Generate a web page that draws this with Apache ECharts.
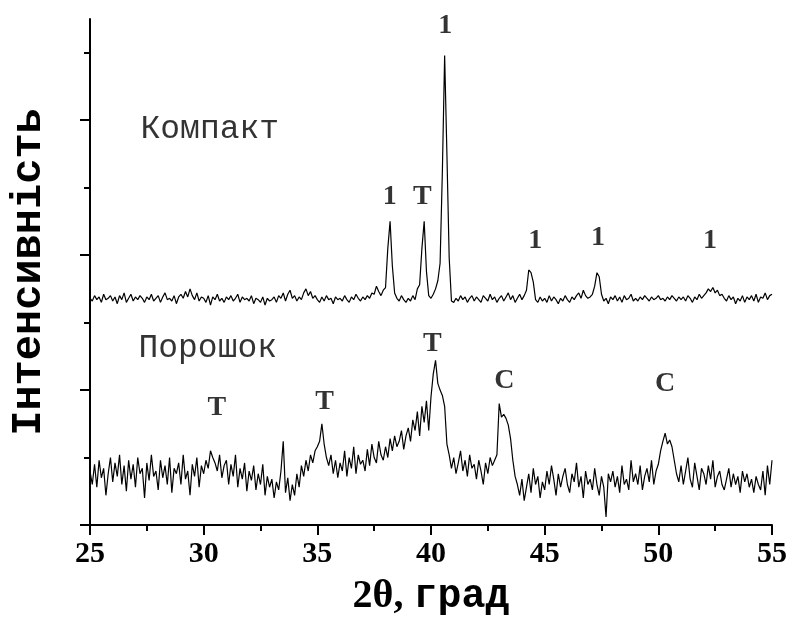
<!DOCTYPE html>
<html>
<head>
<meta charset="utf-8">
<script src="https://cdn.jsdelivr.net/npm/echarts@6/dist/echarts.min.js"></script>
<style>
  html, body { margin: 0; padding: 0; background: #fff; }
  #area { width: 790px; height: 623px; }
</style>
</head>
<body>
<div id="area"></div>
<script>
// 2θ grid: 25.0 ... 55.0, step 0.1
const thetaStart = 25
const thetaStep = 0.1

// Компакт (one row per degree, 10 points each)
const compactValues = [
  168,166,170,167,169,165,171,167,168,170,
  166,169,164,170,167,172,165,168,171,166,
  169,167,170,168,165,169,167,171,166,168,
  170,165,169,172,167,168,166,170,164,169,
  171,168,173,169,175,170,167,172,166,169,
  168,165,170,163,169,167,171,166,168,165,
  169,167,170,166,168,171,165,169,167,168,
  166,170,164,168,167,165,169,163,168,166,
  167,169,165,170,168,172,166,171,174,168,
  170,166,169,167,172,175,170,173,168,170,
  167,165,169,166,170,167,168,164,169,167,
  168,166,170,167,165,169,167,171,168,166,
  169,167,170,168,172,171,177,173,170,174,
  176,205,225,192,172,168,166,170,167,165,
  168,166,170,167,175,178,205,225,188,170,
  168,171,175,181,194,262,348,275,198,166,
  165,168,166,170,167,169,165,168,170,166,
  169,167,165,170,168,166,171,167,169,165,
  168,170,166,169,172,167,170,165,168,171,
  167,170,174,189,187,180,167,165,169,166,
  168,165,170,166,169,167,164,168,166,170,
  167,165,169,167,170,172,168,174,170,168,
  169,171,177,187,184,171,166,168,164,169,
  167,170,166,169,165,170,167,168,171,166,
  168,166,169,167,170,168,166,169,167,168,
  170,167,168,166,169,167,170,168,166,169,
  167,169,166,170,168,165,169,167,171,168,
  170,172,175,173,176,172,174,170,171,168,
  166,170,167,169,164,168,166,170,165,169,
  167,170,166,171,165,169,168,172,167,170,
  171
]

// Порошок
const powderValues = [
  40,30,45,28,48,35,42,22,38,50,
  32,46,36,52,30,44,25,48,34,45,
  28,50,38,42,20,46,33,52,36,40,
  26,48,35,44,30,50,24,42,38,46,
  30,52,34,40,22,45,36,50,28,44,
  38,48,42,55,50,46,40,52,35,44,
  48,30,45,36,52,28,42,34,46,25,
  40,33,44,26,38,30,45,22,36,28,
  34,20,32,26,40,62,24,35,18,30,
  22,38,28,44,36,48,40,52,46,55,
  58,62,75,60,50,44,52,38,48,35,
  46,40,55,36,50,42,58,38,52,45,
  48,40,56,44,60,50,46,62,52,48,
  58,50,64,55,66,58,62,70,56,66,
  72,62,78,70,84,66,88,76,92,70,
  95,112,122,105,100,96,88,60,52,42,
  50,38,46,55,40,48,36,52,42,45,
  34,48,40,30,46,38,50,44,48,52,
  90,80,82,79,74,64,48,36,30,22,
  34,18,28,38,24,42,30,36,20,32,
  26,40,30,44,34,22,38,28,36,42,
  30,24,38,32,46,28,36,20,40,30,
  34,26,42,30,22,36,28,6,38,32,
  40,28,36,24,44,30,34,26,48,32,
  38,30,44,26,36,42,32,48,30,40,
  45,55,62,68,60,63,58,48,38,32,
  44,30,40,50,34,28,46,36,26,42,
  38,30,44,34,48,28,36,40,30,26,
  34,42,28,38,30,36,24,40,32,38,
  28,34,24,36,30,26,40,22,44,30,
  48
]

// peak marks
const peakX = [38.18, 39.62, 40.63, 44.59, 47.35, 52.27, 30.58, 35.32, 40.06, 43.23, 50.30]
const peakY = [243, 243, 370, 211, 213, 211, 87, 91, 134, 107, 105]
const peakText = ['1', 'T', '1', '1', '1', '1', 'T', 'T', 'T', 'C', 'C']

// sample names
const sampleX = [30.27, 30.18]
const sampleY = [293, 131]
const sampleText = ['Компакт', 'Порошок']

const xTicks = [25, 30, 35, 40, 45, 50, 55]
const yMajorTicks = [0, 100, 200, 300]
const yMinorTicks = [50, 150, 250, 350]

function pairs(values) {
  return values.map(function (v, i) {
    return [+(thetaStart + i * thetaStep).toFixed(1), v]
  })
}

const axisColor = '#000'
const yCommon = {
  type: 'value',
  position: 'left',
  min: 0,
  max: 375,
  splitLine: { show: false },
  axisLabel: { show: false }
}

let option = {
  animation: false,
  backgroundColor: '#fff',
  grid: { left: 90, right: 17, top: 19, bottom: 98 },
  xAxis: {
    type: 'value',
    min: xTicks[0],
    max: xTicks[xTicks.length - 1],
    interval: 5,
    splitLine: { show: false },
    axisLine: { lineStyle: { color: axisColor, width: 2 } },
    axisTick: { length: 10, lineStyle: { color: axisColor, width: 2 } },
    minorTick: { show: true, splitNumber: 2, length: 6, lineStyle: { color: axisColor, width: 2 } },
    axisLabel: {
      margin: 14,
      color: '#000',
      fontFamily: 'Liberation Serif',
      fontWeight: 'bold',
      fontSize: 30
    },
    name: '{a|2θ, }{b|град}',
    nameLocation: 'middle',
    nameGap: 52,
    nameTextStyle: {
      color: '#000',
      rich: {
        a: { fontFamily: 'Liberation Serif', fontWeight: 'bold', fontSize: 40, color: '#000' },
        b: { fontFamily: 'Liberation Mono', fontWeight: 'bold', fontSize: 40, color: '#000' }
      }
    }
  },
  yAxis: [
    Object.assign({}, yCommon, {
      axisLine: { lineStyle: { color: axisColor, width: 2 } },
      axisTick: { customValues: yMajorTicks, length: 10, lineStyle: { color: axisColor, width: 2 } },
      name: 'Інтенсивність',
      nameLocation: 'middle',
      nameRotate: 90,
      nameGap: 40,
      nameTextStyle: {
        color: '#000',
        fontFamily: 'Liberation Mono',
        fontWeight: 'bold',
        fontSize: 42
      }
    }),
    Object.assign({}, yCommon, {
      axisLine: { show: false },
      axisTick: { customValues: yMinorTicks, length: 6, lineStyle: { color: axisColor, width: 2 } }
    })
  ],
  series: [
    {
      name: 'Компакт',
      type: 'line',
      showSymbol: false,
      data: pairs(compactValues),
      lineStyle: { color: '#000', width: 1.2 }
    },
    {
      name: 'Порошок',
      type: 'line',
      showSymbol: false,
      data: pairs(powderValues),
      lineStyle: { color: '#000', width: 1.2 }
    },
    {
      type: 'scatter',
      symbolSize: 0,
      silent: true,
      data: peakX.map(function (x, i) { return { value: [x, peakY[i]], name: peakText[i] } }),
      label: {
        show: true,
        position: 'inside',
        formatter: '{b}',
        color: '#000',
        fontFamily: 'Liberation Serif',
        fontWeight: 'bold',
        fontSize: 28
      }
    },
    {
      type: 'scatter',
      symbolSize: 0,
      silent: true,
      data: sampleX.map(function (x, i) { return { value: [x, sampleY[i]], name: sampleText[i] } }),
      label: {
        show: true,
        position: 'inside',
        formatter: '{b}',
        color: '#000',
        fontFamily: 'Liberation Mono',
        fontSize: 33
      }
    }
  ]
}

let myChart = echarts.init(document.getElementById('area'))
myChart.setOption(option)
window.addEventListener('resize', function () {
  myChart.resize()
}, false)
</script>
</body>
</html>
